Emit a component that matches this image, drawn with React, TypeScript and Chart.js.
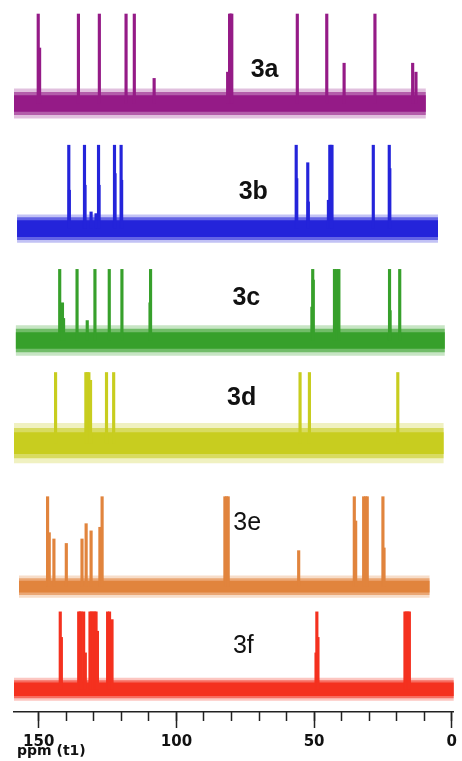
import React, { useEffect, useRef } from "react";
import { Chart, registerables } from "chart.js";

Chart.register(...registerables);

// ---- data ----
const TRACE_NAMES = ["3a", "3b", "3c", "3d", "3e", "3f"];
const TRACE_COLORS = ["#951B87", "#2424DA", "#37A02B", "#C8CD1F", "#E1843D", "#F4311F"];
const LABEL_WEIGHTS = ["bold", "bold", "bold", "bold", "normal", "normal"];

// chemical shift range covered by each spectrum (ppm, start -> end)
const RANGE_START = [160.5, 157.9, 158.4, 159.7, 157.2, 159.0];
const RANGE_END = [9.4, 5.0, 2.5, 2.9, 8.0, -1.8];

// peaks: [ppm, relative intensity (1 = clipped full scale)]
const PEAKS_3A: [number, number][] = [
  [150.2, 1], [149.7, 0.62], [135.6, 1], [128.0, 1], [118.3, 1], [115.3, 1],
  [108.1, 0.28], [81.4, 0.35], [80.7, 1], [80.3, 1], [79.9, 1], [56.1, 1],
  [45.4, 1], [39.1, 0.45], [27.9, 1], [14.2, 0.45], [13.0, 0.35],
];
const PEAKS_3B: [number, number][] = [
  [139.1, 1], [138.9, 0.46], [133.4, 1], [133.2, 0.52], [131.0, 0.2], [129.2, 0.18],
  [128.3, 1], [128.1, 0.52], [122.5, 1], [122.3, 0.66], [120.1, 1], [119.9, 0.58],
  [56.5, 1], [56.3, 0.6], [52.3, 0.79], [52.1, 0.32], [44.8, 0.34], [44.3, 1],
  [43.9, 1], [43.5, 1], [28.5, 1], [22.7, 1], [22.5, 0.72],
];
const PEAKS_3C: [number, number][] = [
  [142.4, 1], [141.4, 0.53], [141.0, 0.31], [136.1, 1], [132.4, 0.28], [129.6, 1],
  [124.4, 1], [119.8, 1], [109.6, 0.53], [109.4, 1], [50.8, 0.47], [50.5, 1],
  [50.3, 0.85], [42.6, 1], [41.8, 1], [41.0, 1], [22.6, 1], [22.4, 0.42], [18.9, 1],
];
const PEAKS_3D: [number, number][] = [
  [143.9, 1], [132.9, 1], [132.4, 1], [131.8, 1], [131.2, 0.89], [125.4, 1],
  [122.8, 1], [55.1, 1], [51.7, 1], [19.6, 1],
];
const PEAKS_3E: [number, number][] = [
  [146.8, 1], [146.6, 0.23], [146.2, 0.6], [144.5, 0.53], [140.0, 0.48], [134.3, 0.53],
  [132.8, 0.7], [131.0, 0.62], [127.8, 0.66], [127.0, 1], [82.4, 1], [81.8, 1],
  [81.2, 1], [55.6, 0.4], [35.4, 1], [34.9, 0.73], [32.0, 1], [31.3, 1], [30.7, 1],
  [25.0, 1], [24.6, 0.43],
];
const PEAKS_3F: [number, number][] = [
  [142.2, 1], [141.8, 0.67], [135.5, 1], [135.0, 1], [134.6, 1], [133.7, 1],
  [133.1, 0.47], [131.4, 1], [130.9, 1], [130.3, 1], [129.7, 1], [129.2, 1],
  [128.7, 0.75], [125.0, 1], [124.3, 1], [123.4, 0.9], [49.3, 0.47], [49.0, 1],
  [48.6, 0.67], [17.0, 1], [16.5, 1], [15.9, 1], [15.4, 1],
];
const TRACE_PEAKS = [PEAKS_3A, PEAKS_3B, PEAKS_3C, PEAKS_3D, PEAKS_3E, PEAKS_3F];

const X_MIN = -0.7;
const X_MAX = 159.0;
const MAJOR_STEP = 50;
const MINOR_STEP = 10;
const X_TITLE = "ppm (t1)";

// ---- layout (stack offsets of the spectra, in plot units) ----
const Y_MAX = 711;
const TRACE_BASE = [607.7, 482.7, 371, 268.5, 125.2, 22.7];
const TRACE_FULL = [89.3, 83.3, 71, 70.5, 89.8, 77.3];
const NOISE_CORE = [8.3, 8.3, 8.3, 10.8, 5.8, 6.7];
const NOISE_MID = [11.5, 11.3, 11.8, 15.0, 8.4, 9.0];
const NOISE_FRINGE = [15, 14.2, 15.3, 20, 11, 11.5];
const LABEL_PPM = [68.0, 72.1, 74.6, 76.3, 74.3, 75.7];
const LABEL_Y = [633.7, 512.7, 406, 306.7, 182, 59];

function rgba(hex: string, a: number) {
  const n = parseInt(hex.slice(1), 16);
  return `rgba(${(n >> 16) & 255},${(n >> 8) & 255},${n & 255},${a})`;
}

const labelPlugin = {
  id: "traceLabels",
  afterDatasetsDraw(chart: any) {
    const { ctx, scales } = chart;
    const x = scales.x;
    const y = scales.y;
    ctx.save();
    ctx.textAlign = "center";
    ctx.textBaseline = "alphabetic";
    ctx.fillStyle = "#111";
    TRACE_NAMES.forEach((name, i) => {
      ctx.font = `${LABEL_WEIGHTS[i]} 25px "Liberation Sans", Arial, sans-serif`;
      ctx.fillText(name, x.getPixelForValue(LABEL_PPM[i]), y.getPixelForValue(LABEL_Y[i]));
    });
    // axis title, left-aligned under the axis
    ctx.textAlign = "left";
    ctx.font = `bold 14px "DejaVu Sans", sans-serif`;
    ctx.fillText(X_TITLE, x.left + 3, x.bottom - 1);
    ctx.restore();
  },
};

export default function App() {
  const ref = useRef<HTMLCanvasElement>(null);

  useEffect(() => {
    if (!ref.current) return;
    const datasets: any[] = [];
    TRACE_NAMES.forEach((_, i) => {
      const base = TRACE_BASE[i];
      const color = TRACE_COLORS[i];
      const bands: [number[], string, number][] = [
        [NOISE_FRINGE, rgba(color, 0.28), 4],
        [NOISE_MID, rgba(color, 0.6), 3],
        [NOISE_CORE, color, 2],
      ];
      bands.forEach(([half, bg, order]) => {
        datasets.push({
          type: "line",
          data: [
            { x: RANGE_START[i], y: base + half[i] },
            { x: RANGE_END[i], y: base + half[i] },
          ],
          fill: { value: base - half[i] },
          backgroundColor: bg,
          borderWidth: 0,
          pointRadius: 0,
          clip: false,
          order,
        });
      });
    });
    const peakData: any[] = [];
    TRACE_PEAKS.forEach((peaks, i) => {
      peaks.forEach(([ppm, rel]) => {
        peakData.push({ x: ppm, y: [TRACE_BASE[i], TRACE_BASE[i] + rel * TRACE_FULL[i]], t: i });
      });
    });
    datasets.push({
      type: "bar",
      data: peakData,
      backgroundColor: (c: any) => TRACE_COLORS[c.raw ? c.raw.t : 0],
      barThickness: 2.5,
      clip: false,
      order: 1,
    });

    const chart = new Chart(ref.current, {
      type: "line",
      data: { datasets },
      options: {
        animation: false,
        responsive: false,
        events: [],
        layout: { padding: { left: 14, right: 5, top: 0, bottom: 5 } },
        plugins: { legend: { display: false }, tooltip: { enabled: false } },
        scales: {
          x: {
            type: "linear",
            min: X_MIN,
            max: X_MAX,
            reverse: true,
            position: "bottom",
            offset: false,
            grid: { drawOnChartArea: false, tickLength: 16, color: "#222", tickWidth: 1.5, offset: false },
            border: { display: true, color: "#222", width: 1.5 },
            ticks: {
              stepSize: MAJOR_STEP,
              includeBounds: false,
              autoSkip: false,
              maxRotation: 0,
              padding: 5,
              color: "#111",
              font: { family: "DejaVu Sans", weight: "bold", size: 15 },
            },
          },
          xMinor: {
            type: "linear",
            axis: "x",
            min: X_MIN,
            max: X_MAX,
            reverse: true,
            position: { y: 0 },
            offset: false,
            grid: { drawOnChartArea: false, tickLength: 9, color: "#222", tickWidth: 1.5 },
            border: { display: false },
            ticks: { display: false, stepSize: MINOR_STEP, includeBounds: false, autoSkip: false },
          },
          y: { type: "linear", display: false, min: 0, max: Y_MAX, stacked: false },
        },
      } as any,
      plugins: [labelPlugin],
    });
    return () => chart.destroy();
  }, []);

  return (
    <div style={{ position: "absolute", left: 0, top: 0, width: 462, height: 761, background: "#fff" }}>
      <canvas ref={ref} width={462} height={761} style={{ width: 462, height: 761 }} />
    </div>
  );
}
